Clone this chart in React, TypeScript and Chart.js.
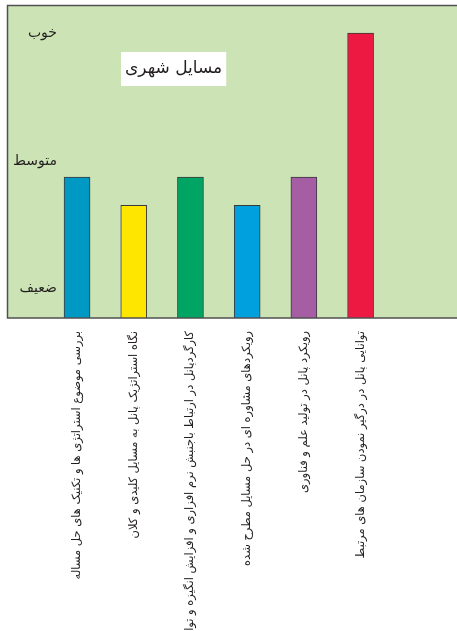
import React, { useEffect, useRef } from "react";
import { Chart, registerables } from "chart.js";

Chart.register(...registerables);

const categories: string[] = [
  "بررسی موضوع استراتژی ها و تکنیک های حل مساله",
  "نگاه استراتژیک پانل به مسایل کلیدی و کلان",
  "کارگردپانل در ارتباط باجنبش نرم افزاری و افزایش انگیزه و توانایی افراد",
  "رویکردهای مشاوره ای در حل مسایل مطرح شده",
  "رویکرد پانل در تولید علم و فناوری",
  "توانایی پانل در درگیر نمودن سازمان های مرتبط",
];
const positions: number[] = [1, 2, 3, 4, 5, 6];
const values: number[] = [4.5, 3.6, 4.5, 3.6, 4.5, 9.1];
const barColors: string[] = ["#0099c4", "#ffe600", "#00a463", "#009fdd", "#a55da4", "#ee1942"];
const yTickValues: number[] = [0.95, 5, 9.1];
const yTickLabels: string[] = ["ضعیف", "متوسط", "خوب"];
const chartTitle = "مسایل شهری";

const bgPlugin = {
  id: "plotBg",
  beforeDraw(chart: any) {
    const { ctx, chartArea } = chart;
    const { left, top, right, bottom } = chartArea;
    ctx.save();
    ctx.fillStyle = "#cce3b5";
    ctx.fillRect(left, top, right - left, bottom - top);
    ctx.restore();
  },
  afterDatasetsDraw(chart: any) {
    const { ctx, chartArea } = chart;
    const { left, top, right, bottom } = chartArea;
    ctx.save();
    ctx.strokeStyle = "#505050";
    ctx.lineWidth = 1.5;
    ctx.beginPath();
    ctx.moveTo(right, top + 0.5);
    ctx.lineTo(left + 0.5, top + 0.5);
    ctx.lineTo(left + 0.5, bottom);
    ctx.lineTo(right, bottom);
    ctx.stroke();
    // title box
    ctx.font = '17px "DejaVu Sans"';
    const w = ctx.measureText(chartTitle).width;
    const bx = left + 114;
    const by = top + 47;
    const bw = Math.max(w + 8, 102);
    ctx.fillStyle = "#ffffff";
    ctx.fillRect(bx, by, bw, 34);
    ctx.fillStyle = "#231f20";
    ctx.textAlign = "center";
    ctx.textBaseline = "middle";
    ctx.fillText(chartTitle, bx + bw / 2, by + 17);
    ctx.restore();
  },
};

export default function App() {
  const ref = useRef<HTMLCanvasElement | null>(null);
  useEffect(() => {
    if (!ref.current) return;
    const chart = new Chart(ref.current, {
      type: "bar",
      data: {
        datasets: [
          {
            data: positions.map((p, i) => ({ x: p, y: values[i] })),
            backgroundColor: barColors,
            borderColor: "#3a3a3a",
            borderWidth: 1,
            borderSkipped: "bottom",
            barThickness: 26,
          },
        ],
      },
      options: {
        animation: false,
        responsive: true,
        maintainAspectRatio: false,
        layout: { padding: { left: 7, top: 5, right: 0, bottom: 0 } },
        plugins: { legend: { display: false }, tooltip: { enabled: false }, title: { display: false } },
        scales: {
          x: {
            type: "linear",
            offset: false,
            min: -0.235,
            max: 7.7,
            grid: { display: false, drawTicks: false },
            border: { display: false },
            afterBuildTicks: (axis: any) => {
              axis.ticks = positions.map((v) => ({ value: v }));
            },
            afterFit: (axis: any) => {
              axis.paddingLeft = 0;
              axis.paddingRight = 0;
            },
            ticks: {
              autoSkip: false,
              minRotation: 90,
              maxRotation: 90,
              padding: 13,
              color: "#231f20",
              font: { family: '"DejaVu Sans"', size: 11.5 },
              callback: (v: any) => {
                const i = positions.indexOf(Number(v));
                return i >= 0 ? categories[i] : "";
              },
            },
          },
          y: {
            min: 0,
            max: 10,
            grid: { display: false, drawTicks: false },
            border: { display: false },
            afterBuildTicks: (axis: any) => {
              axis.ticks = yTickValues.map((v) => ({ value: v }));
            },
            afterFit: (axis: any) => {
              axis.width = 0;
              axis.paddingTop = 0;
              axis.paddingBottom = 0;
            },
            ticks: {
              mirror: true,
              crossAlign: "far",
              padding: 6,
              color: "#231f20",
              font: { family: '"DejaVu Sans"', size: 14 },
              callback: (v: any) => {
                const i = yTickValues.indexOf(Number(v));
                return i >= 0 ? yTickLabels[i] : "";
              },
            },
          },
        },
      },
      plugins: [bgPlugin],
    } as any);
    return () => chart.destroy();
  }, []);
  return (
    <div style={{ position: "absolute", left: 0, top: 0, width: 457, height: 631, background: "#fff" }}>
      <canvas ref={ref} />
    </div>
  );
}
